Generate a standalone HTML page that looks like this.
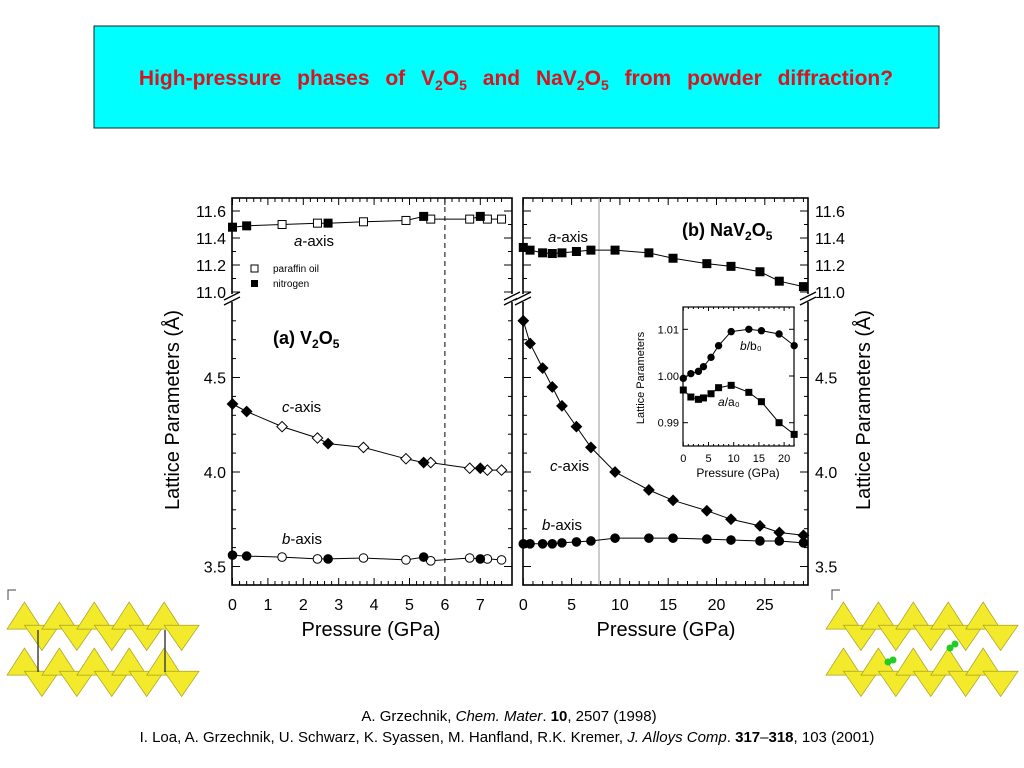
<!DOCTYPE html>
<html><head><meta charset="utf-8"><style>
body{margin:0;background:#fff;}
svg{display:block;font-family:"Liberation Sans",sans-serif;}
</style></head><body>
<svg id="s" width="1024" height="768" viewBox="0 0 1024 768">
<rect x="94" y="26" width="845" height="102" fill="#00FFFF" stroke="#222" stroke-width="1"/>
<text x="516" y="85" text-anchor="middle" font-size="21" font-weight="bold" fill="#D8141E" word-spacing="10" font-family="Liberation Sans,sans-serif">High-pressure phases of V<tspan font-size="14" dy="5">2</tspan><tspan dy="-5">O</tspan><tspan font-size="14" dy="5">5</tspan><tspan dy="-5"> and NaV</tspan><tspan font-size="14" dy="5">2</tspan><tspan dy="-5">O</tspan><tspan font-size="14" dy="5">5</tspan><tspan dy="-5"> from powder diffraction?</tspan></text>
<g id="crys"></g>
<g id="chart"></g>
<text x="509" y="721" text-anchor="middle" font-size="15">A. Grzechnik, <tspan font-style="italic">Chem. Mater</tspan>. <tspan font-weight="bold">10</tspan>, 2507 (1998)</text>
<text x="507" y="742" text-anchor="middle" font-size="15">I. Loa, A. Grzechnik, U. Schwarz, K. Syassen, M. Hanfland, R.K. Kremer, <tspan font-style="italic">J. Alloys Comp</tspan>. <tspan font-weight="bold">317</tspan>–<tspan font-weight="bold">318</tspan>, 103 (2001)</text>
</svg>
<script>
// ---- Data: V2O5 (left) ----
const v_a_fill_p=[0,0.4,2.7,5.4,7.0];
const v_a_fill=[11.48,11.49,11.51,11.56,11.56];
const v_a_open_p=[1.4,2.4,3.7,4.9,5.6,6.7,7.2,7.6];
const v_a_open=[11.50,11.51,11.52,11.53,11.54,11.54,11.54,11.54];
const v_c_fill_p=[0,0.4,2.7,5.4,7.0];
const v_c_fill=[4.36,4.32,4.15,4.05,4.02];
const v_c_open_p=[1.4,2.4,3.7,4.9,5.6,6.7,7.2,7.6];
const v_c_open=[4.24,4.18,4.13,4.07,4.05,4.02,4.01,4.01];
const v_b_fill_p=[0,0.4,2.7,5.4,7.0];
const v_b_fill=[3.56,3.555,3.54,3.55,3.54];
const v_b_open_p=[1.4,2.4,3.7,4.9,5.6,6.7,7.2,7.6];
const v_b_open=[3.55,3.54,3.545,3.535,3.53,3.545,3.54,3.535];
// ---- Data: NaV2O5 (right) ----
const n_p=[0,0.7,2,3,4,5.5,7,9.5,13,15.5,19,21.5,24.5,26.5,29];
const n_a=[11.33,11.31,11.29,11.285,11.29,11.30,11.31,11.31,11.29,11.25,11.21,11.19,11.15,11.08,11.04];
const n_c=[4.80,4.68,4.55,4.45,4.35,4.24,4.13,4.00,3.905,3.85,3.795,3.75,3.715,3.68,3.665];
const n_b=[3.62,3.62,3.62,3.62,3.625,3.63,3.635,3.65,3.65,3.65,3.645,3.64,3.635,3.635,3.625];
// ---- Inset ----
const i_p=[0,1.5,3,4,5.5,7,9.5,13,15.5,19,22];
const i_b=[0.9995,1.0005,1.001,1.002,1.004,1.0065,1.0095,1.010,1.0097,1.009,1.0065];
const i_a=[0.997,0.9955,0.995,0.9953,0.9962,0.9975,0.998,0.9965,0.9945,0.990,0.9875];
const leftTicks=[0,1,2,3,4,5,6,7];
const rightTicks=[0,5,10,15,20,25];
const upperTicks=["11.0","11.2","11.4","11.6"];
const lowerTicks=["3.5","4.0","4.5"];
const insetYTicks=["0.99","1.00","1.01"];
const insetXTicks=[0,5,10,15,20];

const NS="http://www.w3.org/2000/svg";
const g=document.getElementById('chart');
function el(t,a,p){const e=document.createElementNS(NS,t);for(const k in a)e.setAttribute(k,a[k]);(p||g).appendChild(e);return e;}
function txt(x,y,s,a,p){const e=el('text',Object.assign({x:x,y:y},a),p);e.textContent=s;return e;}
const xL=p=>232.5+p*35.4;
const xR=p=>523.3+p*9.66;
const yU=v=>292-(v-11.0)*135;
const yLo=v=>472-(v-4.0)*189;
const ya=v=>v>=10.5?yU(v):yLo(v);
const xI=p=>683.3+p*5.04;
const yI=v=>376-(v-1.0)*4670;

const fL=el('rect',{x:232,y:198,width:280,height:387,fill:'none',stroke:'#000','stroke-width':1.6});

const fR=el('rect',{x:523,y:198,width:285,height:387,fill:'none',stroke:'#000','stroke-width':1.6});

for(let p=0;p<=7.8;p+=0.2){const x=xL(p);const big=Math.abs(p-Math.round(p))<0.01;const L=big?7:4;
 el('line',{x1:x,y1:585,x2:x,y2:585-L,stroke:'#000'});el('line',{x1:x,y1:198,x2:x,y2:198+L,stroke:'#000'});}
for(let p=0;p<=29;p+=1){const x=xR(p);const L=p%5==0?7:4;
 el('line',{x1:x,y1:585,x2:x,y2:585-L,stroke:'#000'});el('line',{x1:x,y1:198,x2:x,y2:198+L,stroke:'#000'});}
leftTicks.forEach(p=>{const t=txt(xL(p),610,String(p),{'text-anchor':'middle','font-size':16});});
rightTicks.forEach(p=>{const t=txt(xR(p),610,String(p),{'text-anchor':'middle','font-size':16});});
function yt(y,big){const L=big?8:4;[[232,1],[512,-1],[523,1],[808,-1]].forEach(([x,d])=>el('line',{x1:x,y1:y,x2:x+d*L,y2:y,stroke:'#000'}));}
for(let v=11.0;v<=11.65;v+=0.1){yt(yU(v),Math.round(v*10)%2==0);}
for(let v=3.4;v<=4.81;v+=0.1){const y=yLo(v);if(y>585||y<305)continue;yt(y,Math.abs(v*2-Math.round(v*2))<0.01);}
upperTicks.forEach(s=>{let t=txt(226,yU(+s)+6,s,{'text-anchor':'end','font-size':16});
 t=txt(815,yU(+s)+6,s,{'font-size':16});});
lowerTicks.forEach(s=>{let t=txt(226,yLo(+s)+6,s,{'text-anchor':'end','font-size':16});
 t=txt(815,yLo(+s)+6,s,{'font-size':16});});
[232,512,523,808].forEach(x=>{el('rect',{x:x-6,y:294,width:12,height:8,fill:'#fff'});
 el('line',{x1:x-8,y1:300,x2:x+8,y2:292,stroke:'#000','stroke-width':1.3});el('line',{x1:x-8,y1:305,x2:x+8,y2:297,stroke:'#000','stroke-width':1.3});});
let t=txt(0,0,'Pressure (GPa)',{x:371,y:636,'text-anchor':'middle','font-size':20});
t=txt(0,0,'Pressure (GPa)',{x:666,y:636,'text-anchor':'middle','font-size':20});
t=txt(0,0,'Lattice Parameters (Å)',{x:0,y:0,'text-anchor':'middle','font-size':20,transform:'translate(179,410) rotate(-90)'});
t=txt(0,0,'Lattice Parameters (Å)',{x:0,y:0,'text-anchor':'middle','font-size':20,transform:'translate(870,410) rotate(-90)'});
const dl=el('line',{x1:xL(6),y1:198,x2:xL(6),y2:585,stroke:'#000','stroke-dasharray':'5,4'});
const gl=el('line',{x1:599,y1:198,x2:599,y2:585,stroke:'#999'});
function lab(x,y,it,rest,fs,name){const e=el('text',{x:x,y:y,'font-size':fs||15});const a=el('tspan',{'font-style':'italic'},e);a.textContent=it;const b=el('tspan',{},e);b.textContent=rest;return e;}
lab(294,246,'a','-axis',15,'a-axis-label-left');lab(282,412,'c','-axis',15,'c-axis-label-left');lab(282,544,'b','-axis',15,'b-axis-label-left');
lab(548,242,'a','-axis',15,'a-axis-label-right');lab(550,471,'c','-axis',15,'c-axis-label-right');lab(542,530,'b','-axis',15,'b-axis-label-right');
let pa=el('text',{x:273,y:344,'font-size':18,'font-weight':'bold'});pa.innerHTML='(a) V<tspan font-size="12" dy="4">2</tspan><tspan dy="-4">O</tspan><tspan font-size="12" dy="4">5</tspan>';
let pb=el('text',{x:682,y:236,'font-size':18,'font-weight':'bold'});pb.innerHTML='(b) NaV<tspan font-size="12" dy="4">2</tspan><tspan dy="-4">O</tspan><tspan font-size="12" dy="4">5</tspan>';
const lg=el('g',{});
el('rect',{x:251,y:265,width:7,height:7,fill:'#fff',stroke:'#000'},lg);txt(273,272,'paraffin oil',{'font-size':10},lg);
el('rect',{x:251,y:280,width:7,height:7,fill:'#000'},lg);txt(273,287,'nitrogen',{'font-size':10},lg);
function line(ps,vs,xf,yf,name){const idx=ps.map((p,i)=>i).sort((a,b)=>ps[a]-ps[b]);const pts=idx.map(i=>xf(ps[i]).toFixed(1)+','+yf(vs[i]).toFixed(1)).join(' ');
 const e=el('polyline',{points:pts,fill:'none',stroke:'#000','stroke-width':1});}
function mark(shape,x,y,fill,r,name){let e;
 if(shape=='sq')e=el('rect',{x:x-r,y:y-r,width:2*r,height:2*r});
 else if(shape=='ci')e=el('circle',{cx:x,cy:y,r:r});
 else e=el('polygon',{points:`${x},${y-r*1.3} ${x+r*1.3},${y} ${x},${y+r*1.3} ${x-r*1.3},${y}`});
 e.setAttribute('fill',fill?'#000':'#fff');e.setAttribute('stroke','#000');
 }
function series(ps,vs,xf,yf,shape,fill,r,name){ps.forEach((p,i)=>mark(shape,xf(p),yf(vs[i]),fill,r,name));}
line(v_a_fill_p.concat(v_a_open_p),v_a_fill.concat(v_a_open),xL,ya,'fit-a-v2o5');
line(v_c_fill_p.concat(v_c_open_p),v_c_fill.concat(v_c_open),xL,ya,'fit-c-v2o5');
line(v_b_fill_p.concat(v_b_open_p),v_b_fill.concat(v_b_open),xL,ya,'fit-b-v2o5');
series(v_a_open_p,v_a_open,xL,ya,'sq',false,4,'point-a-paraffin');
series(v_a_fill_p,v_a_fill,xL,ya,'sq',true,4,'point-a-nitrogen');
series(v_c_open_p,v_c_open,xL,ya,'di',false,4,'point-c-paraffin');
series(v_c_fill_p,v_c_fill,xL,ya,'di',true,4,'point-c-nitrogen');
series(v_b_open_p,v_b_open,xL,ya,'ci',false,4.3,'point-b-paraffin');
series(v_b_fill_p,v_b_fill,xL,ya,'ci',true,4.3,'point-b-nitrogen');
line(n_p,n_a,xR,ya,'fit-a-nav2o5');line(n_p,n_c,xR,ya,'fit-c-nav2o5');line(n_p,n_b,xR,ya,'fit-b-nav2o5');
series(n_p,n_a,xR,ya,'sq',true,4,'point-a-nav2o5');
series(n_p,n_c,xR,ya,'di',true,4,'point-c-nav2o5');
series(n_p,n_b,xR,ya,'ci',true,4.3,'point-b-nav2o5');
const ib=el('rect',{x:683,y:307,width:111,height:139,fill:'#fff',stroke:'#000','stroke-width':1.2});
for(let p=0;p<=22;p+=1){const x=xI(p);const L=p%5==0?4:2;el('line',{x1:x,y1:446,x2:x,y2:446-L,stroke:'#000'});el('line',{x1:x,y1:307,x2:x,y2:307+L,stroke:'#000'});}
insetXTicks.forEach(p=>{const e=txt(xI(p),462,String(p),{'text-anchor':'middle','font-size':11});});
insetYTicks.forEach(s=>{const y=yI(+s);el('line',{x1:683,y1:y,x2:688,y2:y,stroke:'#000'});el('line',{x1:794,y1:y,x2:789,y2:y,stroke:'#000'});
 const e=txt(679,y+4,s,{'text-anchor':'end','font-size':11});});
t=txt(0,0,'Pressure (GPa)',{x:738,y:477,'text-anchor':'middle','font-size':12});
t=txt(0,0,'Lattice Parameters',{x:0,y:0,'text-anchor':'middle','font-size':11,transform:'translate(644,378) rotate(-90)'});
lab(740,350,'b','/b₀',12,'inset-b-label');lab(718,406,'a','/a₀',12,'inset-a-label');
line(i_p,i_b,xI,yI,'inset-fit-b');line(i_p,i_a,xI,yI,'inset-fit-a');
series(i_p,i_b,xI,yI,'ci',true,3.2,'inset-point-b');
series(i_p,i_a,xI,yI,'sq',true,3,'inset-point-a');

const c=document.getElementById('crys');
function tri(x,y,w,h,up){el('polygon',{points:up?`${x},${y+h} ${x+w/2},${y} ${x+w},${y+h}`:`${x},${y} ${x+w},${y} ${x+w/2},${y+h}`,fill:'#F2EA2A',stroke:'#A8A020','stroke-width':0.7},c);}
function layer(x0,y0,s,n){for(let i=0;i<n;i++){const x=x0+i*36*s;tri(x,y0,36*s,28*s,true);tri(x+18*s,y0+24*s,36*s,26*s,false);}}
layer(7,602,0.97,5);layer(7,648,0.97,5);
el('line',{x1:38,y1:630,x2:38,y2:672,stroke:'#444','stroke-width':1.5},c);el('line',{x1:165,y1:630,x2:165,y2:672,stroke:'#444','stroke-width':1.5},c);
layer(826,602,0.97,5);layer(826,648,0.97,5);
el('circle',{cx:893,cy:660,r:3.5,fill:'#2c2'},c);el('circle',{cx:950,cy:648,r:3.5,fill:'#2c2'},c);el('circle',{cx:955,cy:644,r:3.5,fill:'#2c2'},c);el('circle',{cx:888,cy:662,r:3.5,fill:'#2c2'},c);
el('path',{d:'M8,600 V590 H16',fill:'none',stroke:'#444'},c);el('path',{d:'M832,600 V590 H840',fill:'none',stroke:'#444'},c);
</script>
</body></html>
